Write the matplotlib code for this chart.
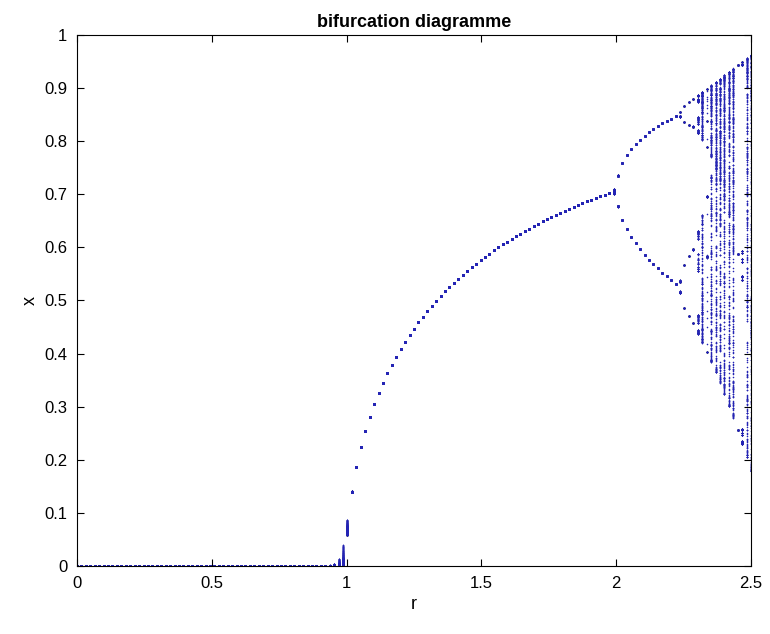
import numpy as np
import matplotlib.pyplot as plt

# parameter grid and map settings (cubic map x -> r*x*(1-x^2))
r_start = 0.0
r_stop = 2.5
n_r = 153
x0 = 0.5
n_transient = 80
n_keep = 400

x_ticks = [0, 0.5, 1, 1.5, 2, 2.5]
x_tick_labels = ['0', '0.5', '1', '1.5', '2', '2.5']
y_ticks = [0, 0.1, 0.2, 0.3, 0.4, 0.5, 0.6, 0.7, 0.8, 0.9, 1]
y_tick_labels = ['0', '0.1', '0.2', '0.3', '0.4', '0.5', '0.6', '0.7', '0.8', '0.9', '1']

r_values = np.linspace(r_start, r_stop, n_r)

# iterate the map for every r and keep the tail
rs = []
xs = []
for r in r_values:
    x = x0
    for i in range(n_transient):
        x = r * x * (1 - x ** 2)
    for i in range(n_keep):
        x = r * x * (1 - x ** 2)
        rs.append(r)
        xs.append(x)

plt.rcParams['font.family'] = ['Liberation Sans', 'DejaVu Sans']

fig = plt.figure(figsize=(7.7, 6.34), dpi=100)
ax = fig.add_axes([0.1, 0.1073, 0.8753, 0.8375])
ax.scatter(rs, xs, s=1.3, c='#2424b4', marker='o', linewidths=0)

ax.set_xlim(0, 2.5)
ax.set_ylim(0, 1)
ax.set_xticks(x_ticks)
ax.set_xticklabels(x_tick_labels)
ax.set_yticks(y_ticks)
ax.set_yticklabels(y_tick_labels)
ax.tick_params(direction='in', top=True, right=True, labelsize=12, length=5, pad=7)
for s in ax.spines.values():
    s.set_linewidth(0.8)

ax.set_xlabel('r', fontsize=13)
ax.set_ylabel('x', fontsize=13)
ax.set_title('bifurcation diagramme', fontsize=13, fontweight='bold')

fig.savefig('out.png', dpi=100)
